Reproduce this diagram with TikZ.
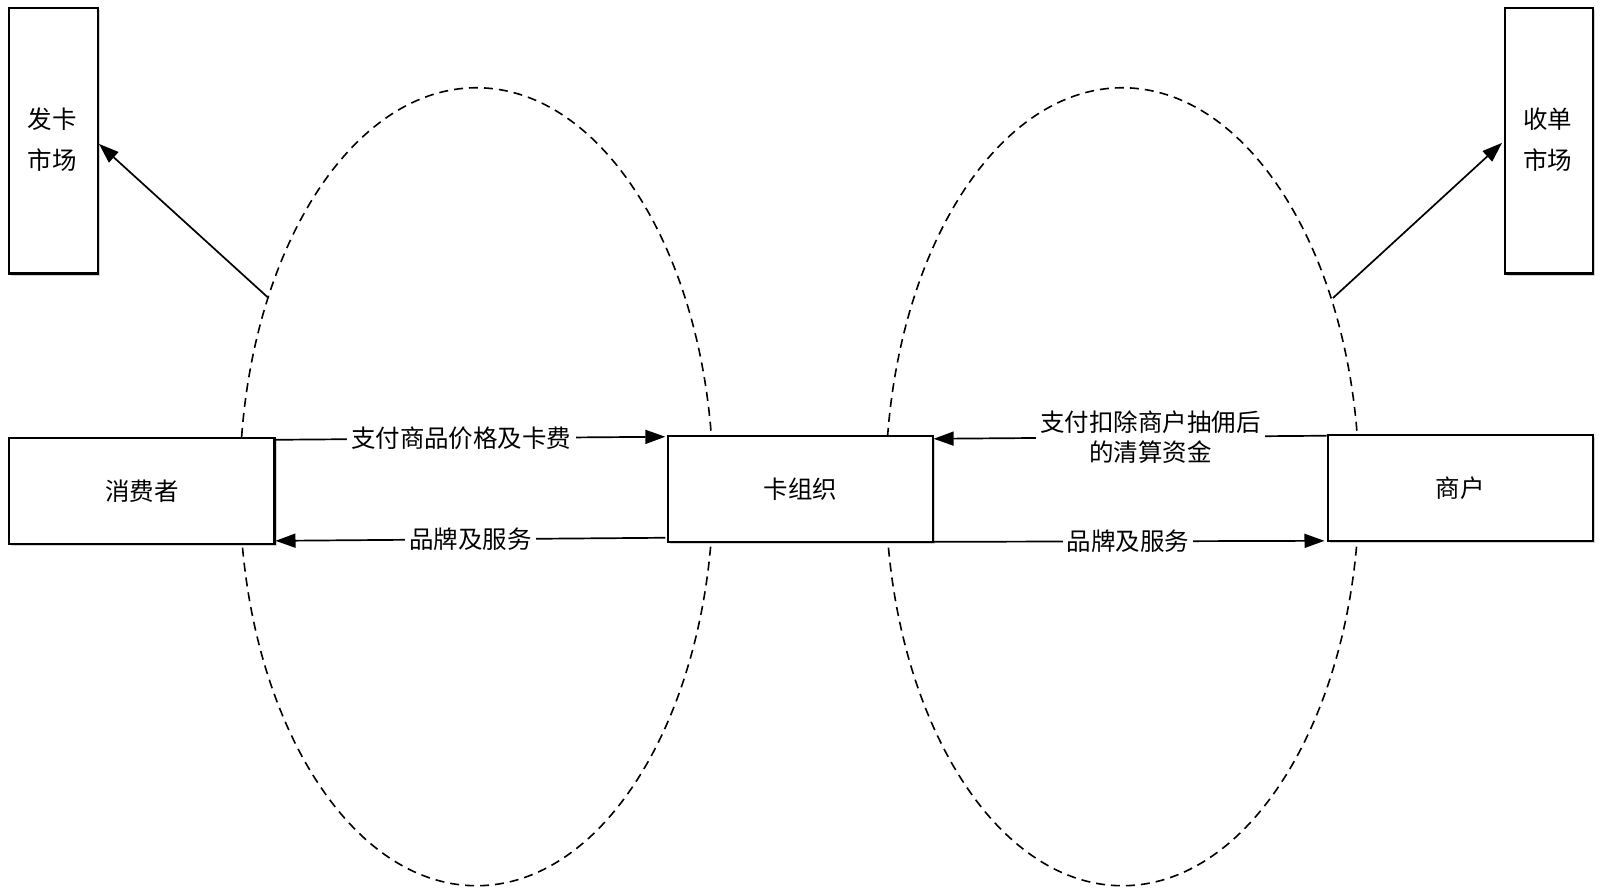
\documentclass[tikz,border=0pt]{standalone}
\usepackage{fontspec}
\setmainfont{Noto Sans CJK SC}
\usetikzlibrary{arrows.meta,shadows}
\begin{document}
\begin{tikzpicture}[x=1pt,y=-1pt,
  box/.style={draw,line width=2.1pt,fill=white,inner sep=0pt,drop shadow={shadow xshift=2pt,shadow yshift=-2pt,opacity=0.35}},
  lbl/.style={fill=white,inner sep=4pt,font=\fontsize{24}{30}\selectfont,align=center},
  conn/.style={line width=1.7pt,-{Triangle[length=20pt,width=14pt]}},
  ell/.style={draw,line width=1.6pt,dash pattern=on 9pt off 6pt}]
\begin{scope}[scale=1.0204,every node/.append style={transform shape}]
\draw[ell] (467,477) ellipse [x radius=232,y radius=391];
\draw[ell] (1100,477) ellipse [x radius=232,y radius=391];
\node[box,minimum width=87pt,minimum height=260pt,anchor=north west] (fk) at (8,7) {};
\node[font=\fontsize{24}{40}\selectfont,align=center] at (51,137) {发卡\\市场};
\node[box,minimum width=86pt,minimum height=260pt,anchor=north west] (sd) at (1474,7) {};
\node[font=\fontsize{24}{40}\selectfont,align=center] at (1517,137) {收单\\市场};
\node[box,minimum width=260pt,minimum height=104pt,anchor=north west,font=\fontsize{24}{30}\selectfont] (xf) at (8,428) {消费者};
\node[box,minimum width=259pt,minimum height=104pt,anchor=north west,font=\fontsize{24}{30}\selectfont] (kz) at (654,426) {卡组织};
\node[box,minimum width=260pt,minimum height=104pt,anchor=north west,font=\fontsize{24}{30}\selectfont] (sh) at (1300,425) {商户};
\coordinate (a1) at (262,291);
\coordinate (a2) at (1306,292);
\draw[conn] (a1) -- (97,141);
\draw[conn] (a2) -- (1472,140);
\draw[conn] (268,431) -- (652,428) node[lbl,midway,xshift=-8pt] {支付商品价格及卡费};
\draw[conn] (652,527) -- (270,530) node[lbl,midway] {品牌及服务};
\draw[conn] (1300,427) -- (915,430) node[lbl,midway,xshift=20pt] {支付扣除商户抽佣后\\的清算资金};
\draw[conn] (913,531) -- (1298,530) node[lbl,midway] {品牌及服务};
\end{scope}
\pgfresetboundingbox
\useasboundingbox (0,0) rectangle (1600,895);
\end{tikzpicture}
\end{document}
